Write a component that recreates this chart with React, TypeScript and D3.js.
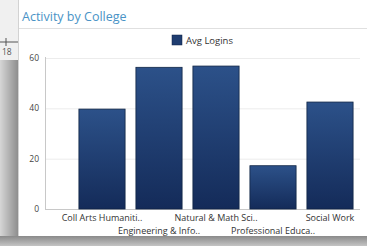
import React from 'react';
import * as d3 from 'd3';

const colleges = [
  'Coll Arts Humaniti..',
  'Engineering & Info..',
  'Natural & Math Sci..',
  'Professional Educa..',
  'Social Work',
];
const avgLogins = [39.7, 56.3, 56.8, 17.2, 42.5];
const yTicks = [0, 20, 40, 60];
const seriesName = 'Avg Logins';
const title = 'Activity by College';

const W = 367;
const H = 246;

const App: React.FC = () => {
  const x = d3.scaleBand<string>()
    .domain(colleges)
    .range([73.5, 358.5])
    .paddingInner(0.19)
    .paddingOuter(0.095);

  const y = d3.scaleLinear().domain([0, 60]).range([209, 58]);

  const font = 'Open Sans, sans-serif';

  return (
    <svg width={W} height={H} style={{ position: 'absolute', left: 0, top: 0 }}>
      <defs>
        <linearGradient id="barGrad" x1="0" y1="0" x2="0" y2="1">
          <stop offset="0%" stopColor="#2c5189" />
          <stop offset="100%" stopColor="#142b59" />
        </linearGradient>
        <linearGradient id="sideGrad" x1="0" y1="0" x2="1" y2="0">
          <stop offset="0%" stopColor="#d6d6d6" />
          <stop offset="100%" stopColor="#8e8e8e" />
        </linearGradient>
        <linearGradient id="bottomGrad" x1="0" y1="0" x2="0" y2="1">
          <stop offset="0%" stopColor="#8a8a8a" />
          <stop offset="100%" stopColor="#c4c4c4" />
        </linearGradient>
      </defs>

      {/* backdrop: other window + shadow */}
      <rect x={0} y={0} width={W} height={H} fill="url(#sideGrad)" />
      <rect x={0} y={0} width={18} height={60} fill="#f0f0f0" />
      <line x1={0} x2={18} y1={42} y2={42} stroke="#555" strokeWidth={1} />
      <line x1={6} x2={6} y1={38} y2={46} stroke="#555" strokeWidth={1} />
      <text x={2} y={55} fontSize={8.5} fill="#555" fontFamily={font}>18</text>
      <rect x={0} y={60} width={18} height={H - 60} fill="url(#sideGrad)" />
      <rect x={0} y={236} width={W} height={10} fill="url(#bottomGrad)" />

      {/* panel */}
      <rect x={19} y={0} width={W - 19} height={236} fill="#ffffff" />
      <text x={22} y={21} fontSize={12.5} fill="#4a93c6" fontFamily={font}>{title}</text>
      <line x1={19} x2={W} y1={28.5} y2={28.5} stroke="#e0e0e0" />

      {/* legend */}
      <rect x={172} y={35} width={10} height={10} fill="#1f3d70" stroke="#0f2244" strokeWidth={0.5} />
      <text x={186} y={44} fontSize={9.5} fill="#333" fontFamily={font}>{seriesName}</text>

      {/* grid + y axis */}
      {yTicks.map(t => (
        <g key={t}>
          {t > 0 && (
            <line x1={45} x2={360} y1={y(t) + 0.5} y2={y(t) + 0.5} stroke="#ececec" />
          )}
          <text x={39} y={y(t) + 3} fontSize={8.5} fill="#444" textAnchor="end" fontFamily={font}>{t}</text>
        </g>
      ))}
      <line x1={45.5} x2={45.5} y1={57} y2={209.5} stroke="#c8c8c8" />
      <line x1={45} x2={360} y1={209.5} y2={209.5} stroke="#c8c8c8" />

      {/* bars */}
      {colleges.map((c, i) => (
        <rect
          key={c}
          x={x(c)}
          y={y(avgLogins[i])}
          width={x.bandwidth()}
          height={y(0) - y(avgLogins[i])}
          fill="url(#barGrad)"
          stroke="#102545"
          strokeWidth={0.8}
        />
      ))}

      {/* x labels, staggered */}
      {colleges.map((c, i) => (
        <text
          key={c}
          x={(x(c) as number) + x.bandwidth() / 2}
          y={i % 2 === 0 ? 221 : 234}
          fontSize={9}
          fill="#333"
          textAnchor="middle"
          fontFamily={font}
        >
          {c}
        </text>
      ))}
    </svg>
  );
};

export default App;
